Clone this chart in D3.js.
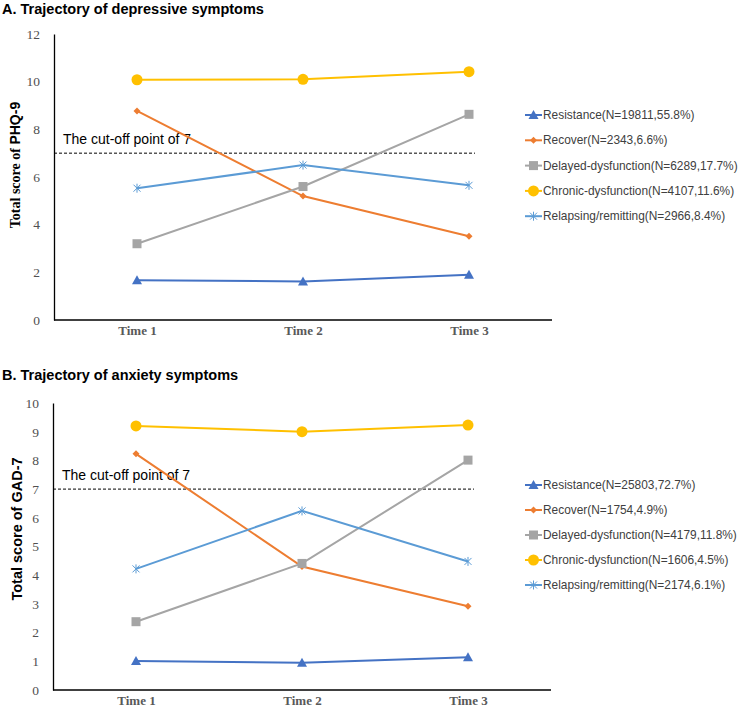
<!DOCTYPE html>
<html>
<head>
<meta charset="utf-8">
<script src="https://cdn.jsdelivr.net/npm/d3@7"></script>
<style>
  body { margin: 0; background: #fff; }
  svg { display: block; }
</style>
</head>
<body>
<div id="chart"></div>
<script>
const times = ["Time 1", "Time 2", "Time 3"];
const seriesNames = ["Resistance", "Recover", "Delayed-dysfunction", "Chronic-dysfunction", "Relapsing/remitting"];
const seriesColors = ["#4472C4", "#ED7D31", "#A5A5A5", "#FFC000", "#5B9BD5"];
const seriesMarkers = ["triangle", "diamond", "square", "circle", "asterisk"];

// Panel A: PHQ-9
const phqLegend = ["(N=19811,55.8%)", "(N=2343,6.6%)", "(N=6289,17.7%)", "(N=4107,11.6%)", "(N=2966,8.4%)"];
const phqResistance = [1.67, 1.62, 1.9];
const phqRecover = [8.77, 5.2, 3.51];
const phqDelayed = [3.2, 5.6, 8.63];
const phqChronic = [10.08, 10.1, 10.42];
const phqRelapsing = [5.53, 6.5, 5.65];
const phqTicks = [0, 2, 4, 6, 8, 10, 12];

// Panel B: GAD-7
const gadLegend = ["(N=25803,72.7%)", "(N=1754,4.9%)", "(N=4179,11.8%)", "(N=1606,4.5%)", "(N=2174,6.1%)"];
const gadResistance = [1.01, 0.95, 1.14];
const gadRecover = [8.23, 4.3, 2.92];
const gadDelayed = [2.38, 4.41, 8.01];
const gadChronic = [9.2, 9.0, 9.23];
const gadRelapsing = [4.22, 6.24, 4.48];
const gadTicks = [0, 1, 2, 3, 4, 5, 6, 7, 8, 9, 10];

const cutoff = 7;

const svg = d3.select("#chart").append("svg")
    .attr("width", 740)
    .attr("height", 710);

function marker(g, type, color) {
    if (type === "triangle") {
        g.append("path").attr("d", "M0,-5L5,4L-5,4Z").attr("fill", color);
    } else if (type === "diamond") {
        g.append("path").attr("d", "M0,-3.5L3.5,0L0,3.5L-3.5,0Z").attr("fill", color);
    } else if (type === "square") {
        g.append("rect").attr("x", -4.5).attr("y", -4.5).attr("width", 9).attr("height", 9).attr("fill", color);
    } else if (type === "circle") {
        g.append("circle").attr("r", 5.5).attr("fill", color);
    } else {
        g.append("path").attr("d", "M-3.5,-3.5L3.5,3.5M-3.5,3.5L3.5,-3.5M0,-4.5L0,4.5")
            .attr("stroke", color).attr("stroke-width", 1).attr("fill", "none");
    }
}

function drawPanel(p) {
    const g = svg.append("g");

    g.append("text")
        .attr("x", 2).attr("y", p.titleY)
        .attr("font-family", "Liberation Sans, Arial, sans-serif")
        .attr("font-weight", "bold")
        .attr("font-size", "14.5px")
        .attr("fill", "#000")
        .text(p.title);

    const x = d3.scalePoint().domain(times).range([p.left, p.right]).padding(0.5);
    const y = d3.scaleLinear().domain([0, d3.max(p.ticks)]).range([p.bottom, p.top]);

    // y axis
    const ya = g.append("g")
        .attr("transform", `translate(${p.left},0)`)
        .call(d3.axisLeft(y).tickValues(p.ticks).tickSize(0).tickPadding(14));
    ya.select(".domain").attr("stroke", "#000").attr("stroke-width", 1.3);
    ya.selectAll("text")
        .attr("font-family", "Liberation Serif, Times New Roman, serif")
        .attr("font-size", "13.5px")
        .attr("fill", "#505050");

    // x axis
    const xa = g.append("g")
        .attr("transform", `translate(0,${p.bottom})`)
        .call(d3.axisBottom(x).tickSize(0).tickPadding(6));
    xa.select(".domain").attr("stroke", "#000").attr("stroke-width", 1.3)
        .attr("d", `M${p.left},0H${p.right}`);
    xa.selectAll("text")
        .attr("font-family", "Liberation Serif, Times New Roman, serif")
        .attr("font-weight", "bold")
        .attr("font-size", "13px")
        .attr("fill", "#595959");

    // y axis title
    const yt = g.append("text")
        .attr("transform", `translate(${p.yTitleX},${p.yTitleY}) rotate(-90)`)
        .attr("text-anchor", "middle")
        .attr("font-weight", "bold")
        .attr("font-size", p.yTitleSize)
        .attr("fill", "#000");
    yt.append("tspan")
        .attr("font-family", p.yTitleSerif ? "Liberation Serif, Times New Roman, serif" : "Liberation Sans, Arial, sans-serif")
        .text(p.yTitleA);
    yt.append("tspan")
        .attr("font-family", "Liberation Sans, Arial, sans-serif")
        .text(p.yTitleB);

    // cut-off line
    g.append("line")
        .attr("x1", p.left).attr("x2", x("Time 3") + 6)
        .attr("y1", y(cutoff)).attr("y2", y(cutoff))
        .attr("stroke", "#000").attr("stroke-width", 1)
        .attr("stroke-dasharray", "3,2");
    g.append("text")
        .attr("x", p.left + 9).attr("y", y(cutoff) - 9)
        .attr("font-family", "Liberation Sans, Arial, sans-serif")
        .attr("font-size", "14px")
        .attr("fill", "#000")
        .text("The cut-off point of " + cutoff);

    const line = d3.line().x((d, i) => x(times[i])).y(d => y(d));

    p.series.forEach((vals, si) => {
        g.append("path")
            .datum(vals)
            .attr("d", line)
            .attr("fill", "none")
            .attr("stroke", seriesColors[si])
            .attr("stroke-width", 2);
        vals.forEach((v, i) => {
            const m = g.append("g").attr("transform", `translate(${x(times[i])},${y(v)})`);
            marker(m, seriesMarkers[si], seriesColors[si]);
        });
    });

    // legend
    const lg = g.append("g").attr("transform", `translate(${p.legendX},${p.legendY})`);
    seriesNames.forEach((name, i) => {
        const row = lg.append("g").attr("transform", `translate(0,${i * p.legendStep})`);
        row.append("line").attr("x1", 0).attr("x2", 17).attr("y1", 0).attr("y2", 0)
            .attr("stroke", seriesColors[i]).attr("stroke-width", 2);
        const m = row.append("g").attr("transform", "translate(8.5,0)");
        marker(m, seriesMarkers[i], seriesColors[i]);
        row.append("text")
            .attr("x", 18).attr("y", 0).attr("dy", "0.35em")
            .attr("font-family", "Liberation Sans, Arial, sans-serif")
            .attr("font-size", "11.9px")
            .attr("fill", "#404040")
            .text(name + p.legend[i]);
    });
}

drawPanel({
    title: "A. Trajectory of depressive symptoms", titleY: 14,
    left: 54, right: 552, top: 34, bottom: 320,
    ticks: phqTicks,
    series: [phqResistance, phqRecover, phqDelayed, phqChronic, phqRelapsing],
    legend: phqLegend,
    yTitleX: 20, yTitleY: 165, yTitleSize: "14px",
    yTitleA: "Total score of ", yTitleB: "PHQ-9", yTitleSerif: true,
    legendX: 525, legendY: 115, legendStep: 25.3
});

drawPanel({
    title: "B. Trajectory of anxiety symptoms", titleY: 380,
    left: 53, right: 551, top: 403, bottom: 690,
    ticks: gadTicks,
    series: [gadResistance, gadRecover, gadDelayed, gadChronic, gadRelapsing],
    legend: gadLegend,
    yTitleX: 22, yTitleY: 529, yTitleSize: "14.5px",
    yTitleA: "Total score of ", yTitleB: "GAD-7", yTitleSerif: false,
    legendX: 525, legendY: 485, legendStep: 25
});
</script>
</body>
</html>
